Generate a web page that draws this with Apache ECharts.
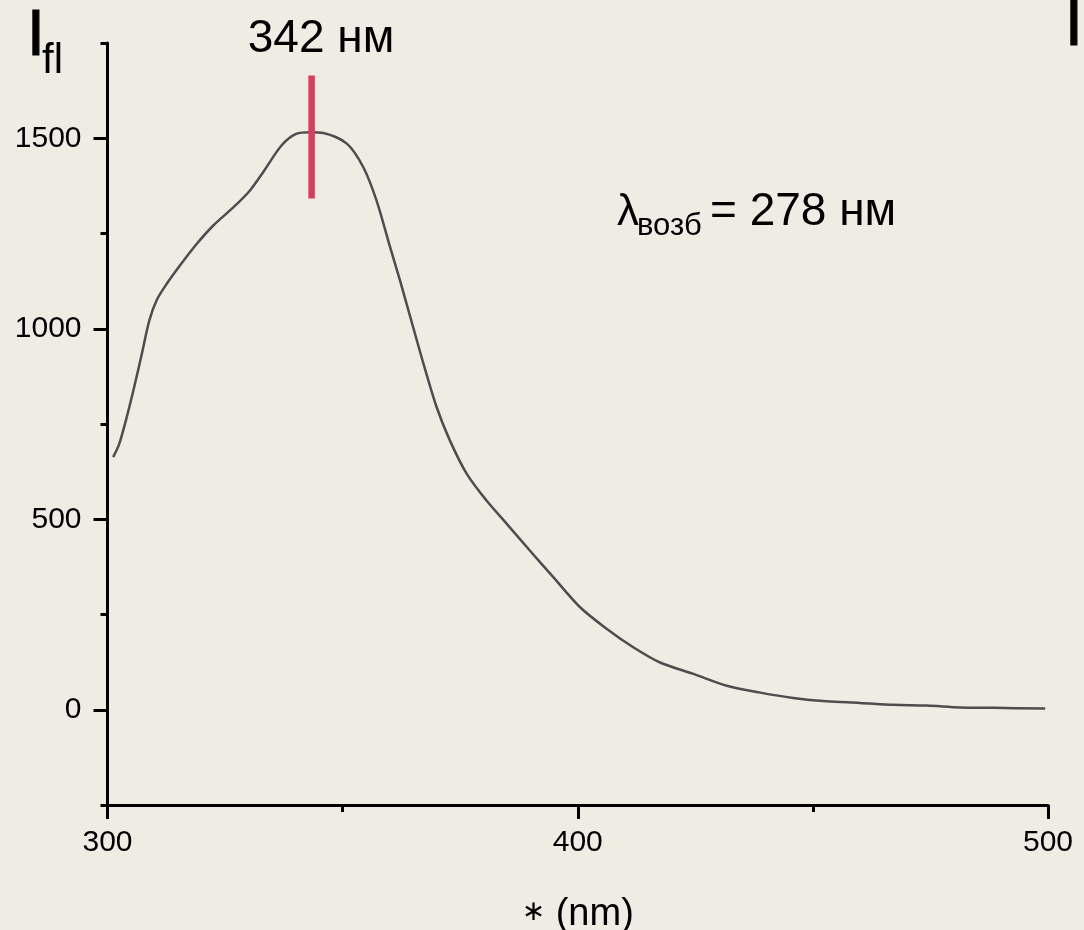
<!DOCTYPE html>
<html>
<head>
<meta charset="utf-8">
<script src="https://cdn.jsdelivr.net/npm/echarts@6/dist/echarts.min.js"></script>
<style>
html,body{margin:0;padding:0;background:#EFECE4;}
#chart{width:1084px;height:930px;}
</style>
</head>
<body>
<div id="chart"></div>
<script>
// Emission spectrum (nm, intensity)
var wavelength = [301.2, 302.5, 303.9, 305.5, 307.3, 308.9, 310.5, 312.6, 315.4, 319.0, 322.5, 326.8, 330.3, 333.1, 337.0, 340.2, 343.1, 345.9, 350.9, 354.4, 357.2, 360.1, 362.2, 365.0, 367.2, 370.0, 372.8, 376.4, 380.6, 384.9, 389.8, 394.8, 400.5, 406.2, 411.8, 417.5, 424.6, 431.7, 438.8, 445.8, 452.9, 460.0, 467.1, 474.2, 481.3, 488.4, 499.4];
var intensity = [663, 698, 759, 838, 934, 1022, 1076, 1118, 1166, 1223, 1271, 1319, 1363, 1411, 1481, 1512, 1516, 1514, 1486, 1424, 1337, 1214, 1127, 1004, 908, 794, 707, 619, 549, 488, 418, 348, 269, 212, 164, 124, 94, 63, 45, 31, 22, 18, 13, 11, 6, 5, 3];
// Peak marker (red bar)
var markerX = [343.4, 343.4];
var markerY = [1342, 1665];
// Axis ticks
var yMajorTicks = [0, 500, 1000, 1500];
var yMinorTicks = [-250, 250, 750, 1250, 1750];
// Texts
var peakLabel = '342 нм';
var excLambda = 'λ';
var excSub = 'возб';
var excValue = '= 278 нм';
var xNameStar = '∗';
var xNameUnit = ' (nm)';

var FONT = '"Liberation Sans", Arial, Helvetica, sans-serif';
var chart = echarts.init(document.getElementById('chart'), null, {renderer: 'canvas'});

var spectrum = wavelength.map(function (w, i) { return [w, intensity[i]]; });
var marker = markerX.map(function (x, i) { return [x, markerY[i]]; });
var plain = function (v) { return String(v); };

chart.setOption({
  backgroundColor: '#EFECE4',
  animation: false,
  grid: {left: 107.5, right: 36, top: 43, bottom: 125, containLabel: false, outerBoundsMode: 'none'},
  xAxis: {
    type: 'value', min: 300, max: 500, interval: 100,
    name: '{s|' + xNameStar + '}{u|' + xNameUnit + '}', nameLocation: 'middle', nameGap: 91,
    nameTextStyle: {
      fontFamily: FONT, fontSize: 38, color: '#000',
      rich: {
        s: {fontFamily: '"DejaVu Sans", sans-serif', fontSize: 28, color: '#000', padding: [0, 0, 4, 0]},
        u: {fontFamily: FONT, fontSize: 38, color: '#000'}
      }
    },
    axisLine: {show: true, onZero: false, lineStyle: {color: '#000', width: 3}},
    axisTick: {show: true, length: 14, lineStyle: {color: '#000', width: 3}},
    minorTick: {show: true, splitNumber: 2, length: 7, lineStyle: {color: '#000', width: 3}},
    axisLabel: {margin: 23, fontFamily: FONT, fontSize: 30, color: '#000', formatter: plain},
    splitLine: {show: false}, minorSplitLine: {show: false}
  },
  yAxis: [{
    type: 'value', min: -250, max: 1750, interval: 250,
    axisLine: {show: true, onZero: false, lineStyle: {color: '#000', width: 3}},
    axisTick: {show: true, length: 14, customValues: yMajorTicks, lineStyle: {color: '#000', width: 3}},
    axisLabel: {margin: 26, fontFamily: FONT, fontSize: 30, color: '#000', customValues: yMajorTicks, formatter: plain},
    splitLine: {show: false}
  }, {
    type: 'value', min: -250, max: 1750, interval: 250, position: 'left',
    axisLine: {show: false},
    axisTick: {show: true, length: 7, customValues: yMinorTicks, lineStyle: {color: '#000', width: 3}},
    axisLabel: {show: false},
    splitLine: {show: false}
  }],
  series: [{
    type: 'line', data: spectrum, showSymbol: false, smooth: 0.3,
    lineStyle: {color: '#4d4d4d', width: 2.5}, z: 3
  }, {
    type: 'line', data: marker, showSymbol: false,
    lineStyle: {color: '#D43F5C', width: 6.5}, z: 4
  }],
  graphic: [
    {type: 'text', x: 27, y: 37, style: {text: 'I', font: '64px ' + FONT, fill: '#000', stroke: '#000', lineWidth: 1.2, verticalAlign: 'middle'}},
    {type: 'text', x: 42, y: 61.4, style: {text: 'fl', font: '42px ' + FONT, fill: '#000', verticalAlign: 'middle'}},
    {type: 'text', x: 1065, y: 27, style: {text: 'I', font: '64px ' + FONT, fill: '#000', stroke: '#000', lineWidth: 1.2, verticalAlign: 'middle'}},
    {type: 'text', x: 321, y: 39, style: {text: peakLabel, font: '46px ' + FONT, fill: '#000', align: 'center', verticalAlign: 'middle'}},
    {type: 'text', x: 617, y: 213, style: {text: excLambda, font: '44px ' + FONT, fill: '#000', verticalAlign: 'middle'}},
    {type: 'text', x: 637, y: 226.3, style: {text: excSub, font: '31px ' + FONT, fill: '#000', verticalAlign: 'middle'}},
    {type: 'text', x: 710, y: 212, style: {text: excValue, font: '46px ' + FONT, fill: '#000', verticalAlign: 'middle'}}
  ]
});
</script>
</body>
</html>
